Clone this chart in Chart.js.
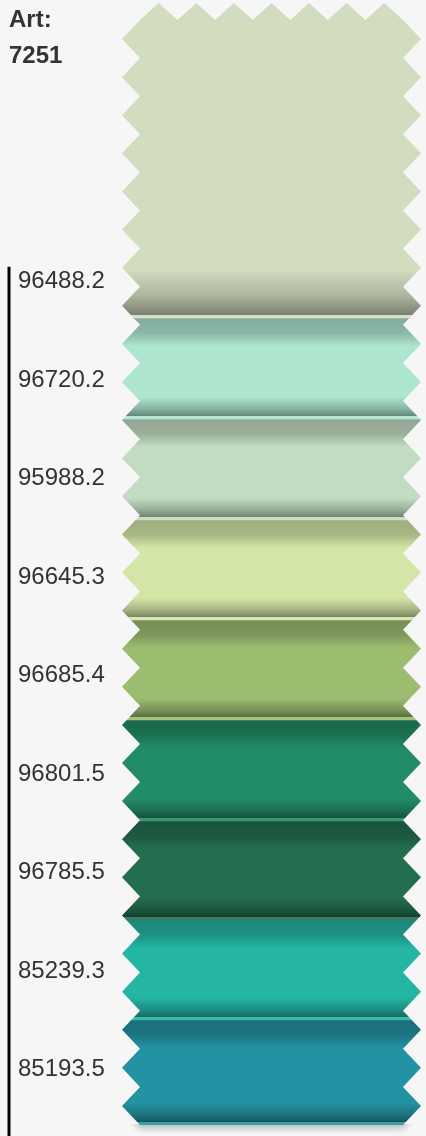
<!DOCTYPE html>
<html>
<head>
<meta charset="utf-8">
<script src="https://cdn.jsdelivr.net/npm/chart.js@4.4.1/dist/chart.umd.min.js"></script>
<style>
  html, body { margin: 0; padding: 0; background: #f6f6f6; }
  #wrap { position: relative; width: 426px; height: 1136px; }
  #art { position: absolute; left: 9px; top: 1px; font: bold 24px/36px "Liberation Sans", Arial, sans-serif; color: #333; }
  canvas { display: block; }
</style>
</head>
<body>
<div id="wrap">
  <canvas id="swatch"></canvas>
  <div id="art">Art:<br>7251</div>
</div>
<script>
// colour codes down the card
const codes = ['96488.2', '96720.2', '95988.2', '96645.3', '96685.4', '96801.5', '96785.5', '85239.3', '85193.5'];
// fabric colour of each stripe
const bandColors = ['#d2dcbf', '#ade5cf', '#c2dcc2', '#d3e6a7', '#9cbd70', '#228c67', '#246e50', '#24b5a3', '#2392a2'];
// length of each stripe, top to bottom (the first one runs up under the header)
const bandLengths = [3.15, 1.01, 1.01, 1.00, 1.00, 1.01, 0.99, 1.00, 1.05];

function rgb(hex) {
    const n = parseInt(hex.slice(1), 16);
    return [n >> 16, (n >> 8) & 255, n & 255];
}
function shade(hex, f) {
    const c = rgb(hex).map(v => Math.round(v * f));
    return `rgb(${c.join(',')})`;
}
function tint(hex, f) {
    const c = rgb(hex).map(v => Math.round(v + (255 - v) * f));
    return `rgb(${c.join(',')})`;
}

// fold shading for one stripe, worked out from where the y scale puts it
function bandFill(chart, i) {
    const base = bandColors[i];
    if (!chart.chartArea) return base;
    const y = chart.scales.y;
    const start = bandLengths.slice(0, i).reduce((a, b) => a + b, 0);
    const top = y.getPixelForValue(start);
    const bot = y.getPixelForValue(start + bandLengths[i]);
    const h = bot - top;
    const at = px => Math.min(1, Math.max(0, px / h));
    const g = chart.ctx.createLinearGradient(0, top, 0, bot);
    if (i > 0) {
        g.addColorStop(0, shade(base, 0.75));
        g.addColorStop(at(15), shade(base, 0.8));
        g.addColorStop(at(28), base);
        g.addColorStop(at(h - 22), base);
        g.addColorStop(at(h - 10), shade(base, 0.78));
    } else {
        g.addColorStop(0, base);
        g.addColorStop(at(h - 48), base);
        g.addColorStop(at(h - 22), shade(base, 0.82));
    }
    g.addColorStop(at(h - 3), shade(base, 0.58));
    g.addColorStop(at(h - 2.5), tint(base, 0.1));
    g.addColorStop(1, tint(base, 0.1));
    return g;
}

// pinking-shear outline round the whole card
function zigzag(ctx, left, right, top, bottom) {
    const d = 18;
    const L = left + d, R = right - d, T = top + 17;
    const n = Math.round((R - L) / 37.5);
    const p = (R - L) / n;
    const m = Math.round((bottom - T) / 38);
    const q = (bottom - T) / m;
    ctx.beginPath();
    ctx.moveTo(L, T);
    for (let k = 0; k < n; k++) {
        ctx.lineTo(L + p * (k + 0.5), top);
        ctx.lineTo(L + p * (k + 1), T);
    }
    for (let k = 0; k < m; k++) {
        ctx.lineTo(right, T + q * (k + 0.5));
        ctx.lineTo(R, T + q * (k + 1));
    }
    ctx.lineTo(L, bottom);
    for (let k = m - 1; k >= 0; k--) {
        ctx.lineTo(left, T + q * (k + 0.5));
        ctx.lineTo(L, T + q * k);
    }
    ctx.closePath();
}

const pinking = {
    id: 'pinking',
    beforeDatasetsDraw(chart) {
        const ctx = chart.ctx;
        const first = chart.getDatasetMeta(0).data[0];
        const last = chart.getDatasetMeta(bandLengths.length - 1).data[0];
        const left = first.x - first.width / 2, right = first.x + first.width / 2;
        const top = Math.min(first.y, first.base);
        const bottom = Math.max(last.y, last.base);
        // soft shadow under the card
        ctx.save();
        ctx.beginPath();
        ctx.rect(0, bottom - 1, chart.width, 30);
        ctx.clip();
        zigzag(ctx, left, right, top, bottom);
        ctx.shadowColor = 'rgba(0,0,0,0.22)';
        ctx.shadowBlur = 6;
        ctx.shadowOffsetY = 4;
        ctx.fillStyle = '#f6f6f6';
        ctx.fill();
        ctx.restore();
        ctx.save();
        zigzag(ctx, left, right, top, bottom);
        ctx.clip();
    },
    afterDatasetsDraw(chart) {
        chart.ctx.restore();
    },
    afterDraw(chart) {
        // black rule down the left of the code list
        const s = chart.scales.codes;
        const ctx = chart.ctx;
        const y0 = s.getPixelForValue(0) - 15;
        ctx.save();
        ctx.fillStyle = '#000';
        ctx.fillRect(s.left - 10.5, y0, 3, chart.height - y0);
        ctx.restore();
    }
};

new Chart(document.getElementById('swatch'), {
    type: 'bar',
    data: {
        labels: ['7251'],
        datasets: bandLengths.map((len, i) => ({
            label: codes[i],
            data: [len],
            backgroundColor: ctx => bandFill(ctx.chart, i),
            borderWidth: 0,
            barPercentage: 1,
            categoryPercentage: 1
        }))
    },
    options: {
        responsive: true,
        maintainAspectRatio: false,
        animation: false,
        layout: { padding: { left: 18, top: 3, right: 5, bottom: 11 } },
        plugins: { legend: { display: false }, tooltip: { enabled: false } },
        scales: {
            x: { stacked: true, display: false },
            y: {
                stacked: true, display: false, reverse: true,
                min: 0, max: bandLengths.reduce((a, b) => a + b, 0)
            },
            codes: {
                type: 'linear', axis: 'y', position: 'left', reverse: true,
                min: -2.83, max: 8.56,
                grid: { display: false },
                border: { display: false },
                afterBuildTicks: s => { s.ticks = codes.map((c, i) => ({ value: i })); },
                afterFit: s => { s.width = 104; s.paddingTop = 0; s.paddingBottom = 0; },
                ticks: {
                    crossAlign: 'far',
                    color: '#333',
                    font: { family: '"Liberation Sans", Arial, sans-serif', size: 24 },
                    callback: v => codes[v]
                }
            }
        }
    },
    plugins: [pinking]
});
</script>
</body>
</html>
